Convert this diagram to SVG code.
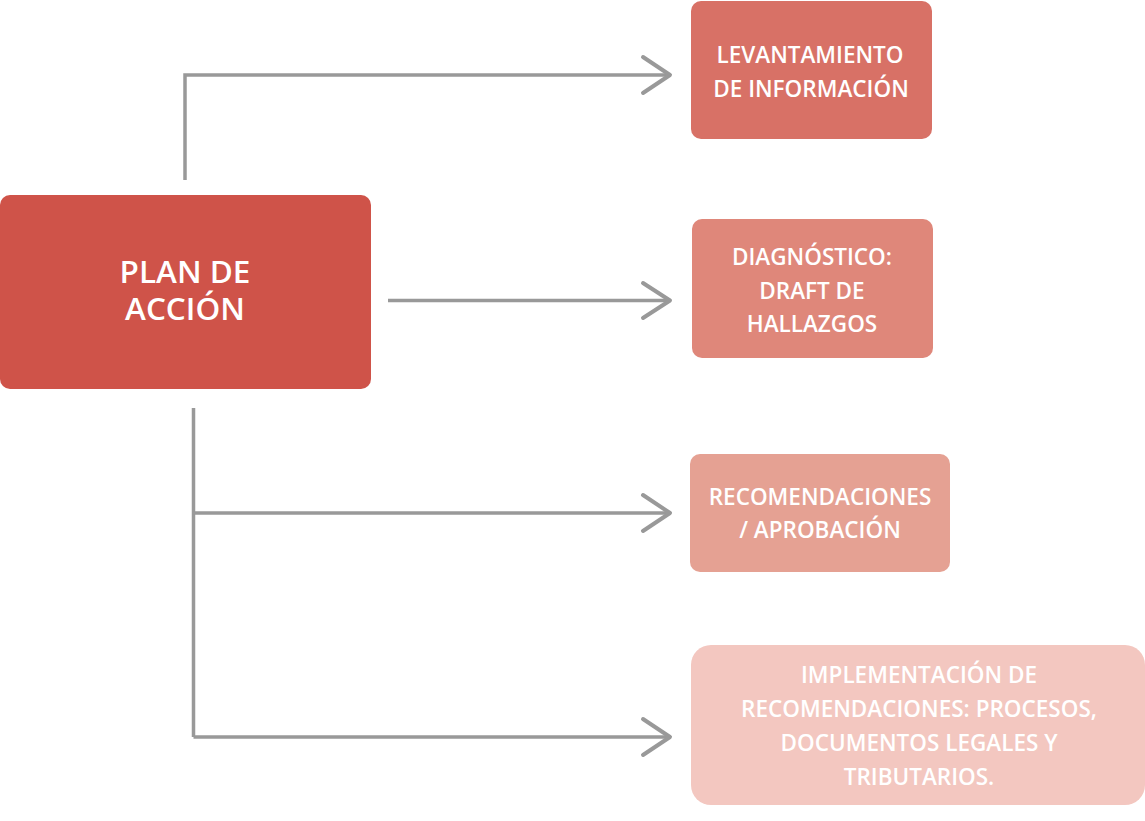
<svg xmlns="http://www.w3.org/2000/svg" width="1145" height="821" viewBox="0 0 1145 821">
<style>
.lbl{font-family:"Open Sans","Liberation Sans",sans-serif;font-weight:600;fill:#ffffff;text-anchor:middle;font-size:22.5px}
.big{font-size:31.5px}
.con{fill:none;stroke:#999999;stroke-width:3.5}
.head{fill:none;stroke:#999999;stroke-width:4;stroke-linecap:round;stroke-linejoin:round}
</style>
<rect width="1145" height="821" fill="#ffffff"/>
<g id="connectors">
<polyline class="con" points="185,180 185,75 670,75"/>
<polyline class="head" points="643,57 670,75 643,93"/>
<line class="con" x1="388" y1="300.5" x2="670" y2="300.5"/>
<polyline class="head" points="643,283 670,300.5 643,318"/>
<line class="con" x1="193.5" y1="408" x2="193.5" y2="737"/>
<line class="con" x1="193.5" y1="513" x2="670" y2="513"/>
<polyline class="head" points="643,495 670,513 643,531"/>
<polyline class="con" points="193.5,737 670,737"/>
<polyline class="head" points="643,719 670,737 643,755"/>
</g>
<g id="plan">
<rect x="0" y="195" width="371" height="194" rx="10" fill="#CF5349"/>
<text class="lbl big" x="185" y="283">PLAN DE</text>
<text class="lbl big" x="185" y="320">ACCIÓN</text>
</g>
<g id="levantamiento">
<rect x="691" y="1" width="241" height="138" rx="10" fill="#D87166"/>
<text class="lbl" x="810" y="63">LEVANTAMIENTO</text>
<text class="lbl" x="811" y="97">DE INFORMACIÓN</text>
</g>
<g id="diagnostico">
<rect x="692" y="219" width="241" height="139" rx="10" fill="#DF877A"/>
<text class="lbl" x="812" y="265">DIAGNÓSTICO:</text>
<text class="lbl" x="812" y="299">DRAFT DE</text>
<text class="lbl" x="812" y="332">HALLAZGOS</text>
</g>
<g id="recomendaciones">
<rect x="690" y="454" width="260" height="118" rx="10" fill="#E5A193"/>
<text class="lbl" x="820" y="505">RECOMENDACIONES</text>
<text class="lbl" x="820" y="538">/ APROBACIÓN</text>
</g>
<g id="implementacion">
<rect x="691" y="645" width="454" height="160" rx="20" fill="#F3C7C0"/>
<text class="lbl" x="919" y="683">IMPLEMENTACIÓN DE</text>
<text class="lbl" x="919" y="717">RECOMENDACIONES: PROCESOS,</text>
<text class="lbl" x="919" y="751">DOCUMENTOS LEGALES Y</text>
<text class="lbl" x="919" y="785">TRIBUTARIOS.</text>
</g>
</svg>
